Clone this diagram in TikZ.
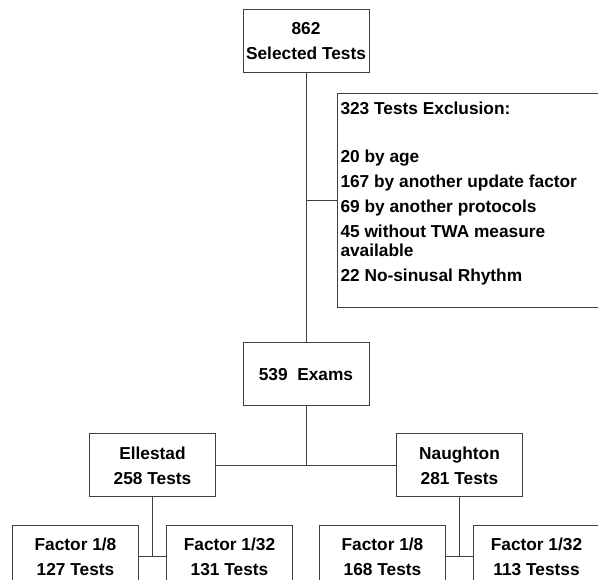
\documentclass[tikz,border=0pt]{standalone}
\usepackage{fontspec}
\setmainfont{Liberation Sans}
\usetikzlibrary{positioning}

\begin{document}
\begin{tikzpicture}[x = 1pt, y = -1pt, line width = 1pt,
    box/.style = {draw = black!75, minimum width = 126pt, minimum height = 63pt, align = center, inner sep = 0pt},
    every node/.style = {font = \fontsize{17.3}{25}\selectfont\bfseries}]
    \clip (0,0) rectangle (598,580);
    \node[box]		(sel)		at (306,41.5)					{862\\Selected Tests};
    \node[box, minimum width = 270pt, minimum height = 214pt]
    				(excl)		[below right = 20pt and 31pt of sel.south]	{};
    \node[align = left, inner sep = 0pt, anchor = north west]
    				(excltxt)	at ([xshift = 3pt, yshift = -7.6pt] excl.north west)
    	{323 Tests Exclusion:\\[23pt]
    	 20 by age\\
    	 167 by another update factor\\
    	 69 by another protocols\\
    	 45 without TWA measure\\[-6pt]
    	 available\\
    	 22 No-sinusal Rhythm};
    \node[box]		(exams)		[below = 269pt of sel]				{539~~Exams};
    \node[box]		(ell)		[below left = 27pt and 90pt of exams.south]	{Ellestad\\258 Tests};
    \node[box]		(naug)		[below right = 27pt and 90pt of exams.south]	{Naughton\\281 Tests};
    \node[box]		(ellA)		[below left = 27pt and 13.5pt of ell.south]	{Factor 1/8\\127 Tests};
    \node[box]		(ellB)		[below right = 27pt and 13.5pt of ell.south]	{Factor 1/32\\131 Tests};
    \node[box]		(naugA)		[below left = 27pt and 13.5pt of naug.south]	{Factor 1/8\\168 Tests};
    \node[box]		(naugB)		[below right = 27pt and 13.5pt of naug.south]	{Factor 1/32\\113 Testss};
    \begin{scope}[draw = black!75]
    \draw	(sel)	--	(exams);
    \draw	(sel.south |- excl.west)	--	(excl.west);
    \draw	(exams)	--	(exams.south |- ell.east);
    \draw	(ell)	--	(naug);
    \draw	(ell)	--	(ell.south |- ellA.east);
    \draw	(ellA)	--	(ellB);
    \draw	(naug)	--	(naug.south |- naugA.east);
    \draw	(naugA)	--	(naugB);
    \end{scope}
\end{tikzpicture}
\end{document}
